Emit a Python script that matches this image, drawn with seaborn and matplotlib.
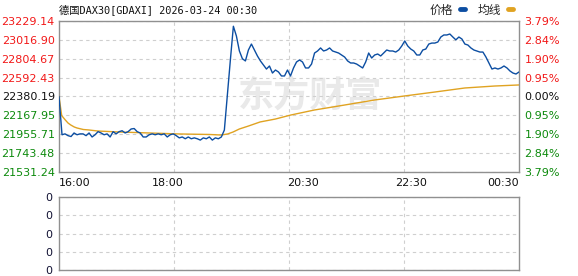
import numpy as np
import pandas as pd
import matplotlib
matplotlib.use("Agg")
import matplotlib.pyplot as plt
import seaborn as sns
from matplotlib.lines import Line2D

# ---------------- data ----------------
title = "德国DAX30[GDAXI] 2026-03-24 00:30"
legend_labels = ["价格", "均线"]
left_ticks = [23229.14, 23016.90, 22804.67, 22592.43, 22380.19,
              22167.95, 21955.71, 21743.48, 21531.24]
right_labels = ["3.79%", "2.84%", "1.90%", "0.95%", "0.00%",
                "0.95%", "1.90%", "2.84%", "3.79%"]
time_labels = ["16:00", "18:00", "20:30", "22:30", "00:30"]
time_label_minutes = [0, 120, 270, 390, 510]
session_minutes = 510
volume_labels = ["0", "0", "0", "0", "0"]

price = [
    22380, 21950, 21960, 21940, 21930, 21970, 21950, 21960, 21960, 21940,
    21970, 21925, 21950, 21985, 21970, 21950, 21960, 21925, 21985, 21960,
    21985, 21995, 21970, 21985, 22015, 22020, 21985, 21970, 21925, 21925,
    21950, 21960, 21950, 21960, 21950, 21960, 21925, 21950, 21960, 21940,
    21915, 21925, 21905, 21925, 21905, 21915, 21905, 21890, 21915, 21905,
    21925, 21890, 21915, 21905, 21925, 22003, 22397, 22791, 23170, 23061,
    22892, 22805, 22780, 22903, 22970, 22903, 22836, 22780, 22734, 22689,
    22723, 22644, 22678, 22656, 22611, 22611, 22678, 22611, 22701, 22768,
    22791, 22768, 22701, 22701, 22745, 22869, 22892, 22926, 22892, 22903,
    22926, 22892, 22880, 22869, 22847, 22824, 22780, 22757, 22757, 22745,
    22723, 22701, 22768, 22869, 22813, 22847, 22858, 22836, 22869, 22903,
    22892, 22892, 22880, 22903, 22948, 23005, 22948, 22914, 22892, 22847,
    22847, 22903, 22914, 22970, 22981, 22981, 22993, 23049, 23072, 23072,
    23083, 23049, 23017, 23049, 23027, 22970, 22959, 22926, 22903, 22892,
    22880, 22880, 22824, 22757, 22689, 22701, 22689, 22701, 22723, 22701,
    22667, 22644, 22633, 22656,
]

avg_minutes = [0, 3, 7, 10, 13, 17, 20, 27, 33, 43, 67, 100, 133, 167, 180,
               187, 193, 200, 210, 223, 240, 257, 283, 317, 350, 383, 417,
               450, 483, 510]
avg = [22380, 22165, 22116, 22082, 22060, 22037, 22026, 22009, 22004, 21992,
       21981, 21970, 21959, 21953, 21947, 21959, 21981, 22015, 22048, 22094,
       22127, 22172, 22228, 22285, 22341, 22386, 22431, 22476, 22498, 22510]

# ---------------- style ----------------
sns.set_theme(style="white")
plt.rcParams["font.family"] = ["DejaVu Sans", "Noto Sans CJK SC"]

W, H = 578, 276
fig = plt.figure(figsize=(W / 100, H / 100), dpi=100)
fig.patch.set_facecolor("white")

RED = "#f21818"
GREEN = "#0c8a0c"
BLUE = "#0c4ea2"
ORANGE = "#e0a322"
GRID = "#cfcfcf"
SPINE = "#909090"

def px_axes(x0, y0, x1, y1):
    return fig.add_axes([x0 / W, 1 - y1 / H, (x1 - x0) / W, (y1 - y0) / H])

ax = px_axes(59, 21, 519, 172)
axv = px_axes(59, 197, 519, 270)

df_price = pd.DataFrame({"minute": np.linspace(0, session_minutes, len(price)),
                         "price": price})
df_avg = pd.DataFrame({"minute": avg_minutes, "avg": avg})

# watermark
ax.text(0.545, 0.50, "东方财富", transform=ax.transAxes, ha="center", va="center",
        fontsize=26, fontweight="bold", color="#e9e9e9",
        family=["Noto Sans CJK SC"], zorder=0)

sns.lineplot(data=df_avg, x="minute", y="avg", ax=ax, color=ORANGE,
             linewidth=1.0, zorder=3)
sns.lineplot(data=df_price, x="minute", y="price", ax=ax, color=BLUE,
             linewidth=1.0, zorder=4)

for a in (ax, axv):
    a.set_xlim(0, session_minutes)
    a.set_xlabel("")
    a.set_ylabel("")
    for s in a.spines.values():
        s.set_color(SPINE)
        s.set_linewidth(1.0)
    a.set_xticks([session_minutes * q / 4 for q in (1, 2, 3)], minor=True)
    a.grid(False)
    a.xaxis.grid(True, which="minor", color=GRID, linestyle=(0, (3, 3)), linewidth=0.8)
    a.yaxis.grid(True, which="major", color=GRID, linestyle=(0, (3, 3)), linewidth=0.8)
    a.tick_params(which="both", length=0)
    a.set_axisbelow(True)

# main axis y
ax.set_ylim(left_ticks[-1], left_ticks[0])
ax.set_yticks(left_ticks)
ax.set_yticklabels([f"{v:.2f}" for v in left_ticks])
ax.tick_params(axis="y", labelsize=8, pad=3)
for i, lab in enumerate(ax.get_yticklabels()):
    lab.set_color(RED if i < 4 else ("#111111" if i == 4 else GREEN))

# x labels
ax.set_xticks(time_label_minutes)
ax.set_xticklabels(time_labels)
ax.tick_params(axis="x", labelsize=8, pad=4, colors="#111111")
xl = ax.get_xticklabels()
xl[0].set_ha("left")
xl[-1].set_ha("right")

# right percent axis
ax2 = ax.twinx()
ax2.set_ylim(left_ticks[-1], left_ticks[0])
ax2.set_yticks(left_ticks)
ax2.set_yticklabels(right_labels)
ax2.tick_params(axis="y", labelsize=8, pad=4, length=0)
for i, lab in enumerate(ax2.get_yticklabels()):
    lab.set_color(RED if i < 4 else ("#111111" if i == 4 else GREEN))
for s in ax2.spines.values():
    s.set_visible(False)
ax2.grid(False)

# volume panel
axv.set_ylim(0, 4)
axv.set_yticks(range(5))
axv.set_yticklabels(volume_labels)
axv.set_xticks([])
axv.tick_params(axis="y", labelsize=8, pad=5, colors="#111133")

# title and legend
fig.text(59 / W, 1 - 10 / H, title, ha="left", va="center", fontsize=7.4,
         family=["DejaVu Sans Mono", "Noto Sans CJK SC"], color="#111111")
handles = [Line2D([], [], color=BLUE, linewidth=3.5),
           Line2D([], [], color=ORANGE, linewidth=3.5)]
fig.legend(handles, legend_labels, loc="center right",
           bbox_to_anchor=(513 / W, 1 - 10 / H), ncol=2, frameon=False,
           markerfirst=False, handlelength=0.45, handletextpad=0.6,
           columnspacing=1.0, borderpad=0, borderaxespad=0,
           prop={"family": ["Noto Sans CJK SC"], "size": 8.5})

fig.savefig("out.png", dpi=100, facecolor="white")
